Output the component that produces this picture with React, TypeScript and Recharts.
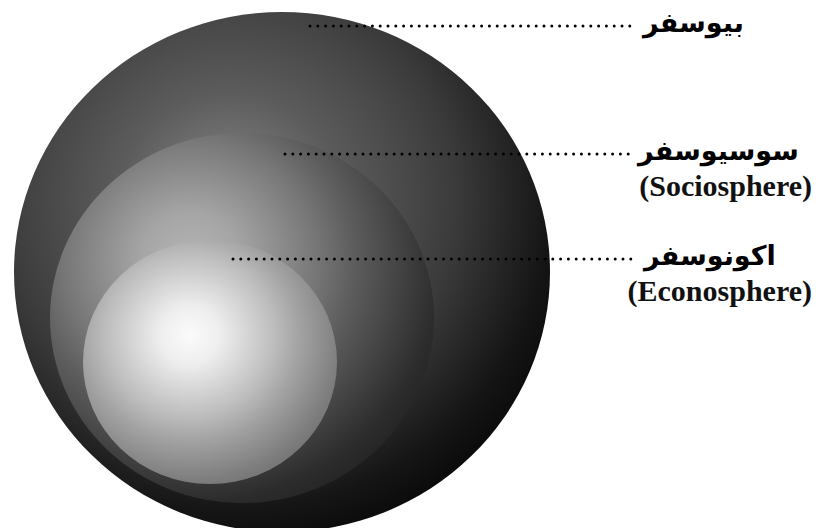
import { ScatterChart, Scatter, XAxis, YAxis } from 'recharts';

// spheres, outermost first (units = pixels of the 816x528 plot)
const spheres = ['Biosphere', 'Sociosphere', 'Econosphere'];
const centerX = [282, 242, 210];
const centerY = [272, 318, 362];
const radiusX = [268, 192, 127];
const radiusY = [260, 185, 122];

// labels and their dotted leaders
const faLabels = ['بیوسفر', 'سوسیوسفر', 'اکونوسفر'];
const enLabels = ['', '(Sociosphere)', '(Econosphere)'];
const leaderY = [26, 154, 259];
const leaderStart = [310, 285, 233];
const leaderEnd = [635, 630, 636];

const gradients = [
  {
    id: 'bioGrad',
    cx: 0.4,
    cy: 0.36,
    r: 0.75,
    stops: [
      [0, '#8a8a8a'],
      [0.27, '#5c5c5c'],
      [0.47, '#464646'],
      [0.57, '#3a3a3a'],
      [0.8, '#151515'],
      [1, '#000000'],
    ],
  },
  {
    id: 'socioGrad',
    cx: 0.365,
    cy: 0.343,
    r: 0.86,
    stops: [
      [0, '#b4b4b4'],
      [0.15, '#a5a5a5'],
      [0.38, '#777777'],
      [0.5, '#5c5c5c'],
      [0.76, '#2c2c2c'],
      [1, '#151515'],
    ],
  },
  {
    id: 'econoGrad',
    cx: 0.42,
    cy: 0.39,
    r: 0.79,
    stops: [
      [0, '#fbfbfb'],
      [0.15, '#eeeeee'],
      [0.42, '#bdbdbd'],
      [0.55, '#a2a2a2'],
      [0.75, '#7e7e7e'],
      [1, '#5a5a5a'],
    ],
  },
];

const sphereData = spheres.map((name, i) => ({
  name,
  x: centerX[i],
  y: centerY[i],
  rx: radiusX[i],
  ry: radiusY[i],
}));

const labelData = faLabels.map((fa, i) => ({
  x: leaderEnd[i],
  y: leaderY[i],
  fa,
  en: enLabels[i],
}));

const Ellipse = (props: any) => {
  const { cx, cy, fill, payload } = props;
  return <ellipse cx={cx} cy={cy} rx={payload.rx} ry={payload.ry} fill={fill} />;
};

const NoDot = () => <g />;

const Label = (props: any) => {
  const { cx, cy, payload } = props;
  return (
    <g>
      <text
        x={cx + 8}
        y={cy + 6}
        textAnchor="start"
        fontFamily="'DejaVu Sans', sans-serif"
        fontWeight="bold"
        fontSize={27}
        fill="#000"
      >
        {payload.fa}
      </text>
      {payload.en && (
        <text
          x={812}
          y={cy + 42}
          textAnchor="end"
          fontFamily="'Liberation Serif', serif"
          fontWeight="bold"
          fontSize={30}
          fill="#111"
        >
          {payload.en}
        </text>
      )}
    </g>
  );
};

export default function App() {
  return (
    <div style={{ position: 'absolute', left: 0, top: 0, background: '#fff' }}>
      <ScatterChart width={816} height={528} margin={{ top: 0, right: 0, bottom: 0, left: 0 }}>
        <defs>
          {gradients.map((g) => (
            <radialGradient key={g.id} id={g.id} cx={g.cx} cy={g.cy} r={g.r} fx={g.cx} fy={g.cy}>
              {g.stops.map(([o, c]) => (
                <stop key={String(o)} offset={o as number} stopColor={c as string} />
              ))}
            </radialGradient>
          ))}
        </defs>
        <XAxis type="number" dataKey="x" domain={[0, 816]} hide allowDataOverflow />
        <YAxis type="number" dataKey="y" domain={[0, 528]} reversed hide allowDataOverflow />
        {sphereData.map((d, i) => (
          <Scatter
            key={d.name}
            name={d.name}
            data={[d]}
            fill={`url(#${gradients[i].id})`}
            shape={Ellipse}
            isAnimationActive={false}
          />
        ))}
        {leaderY.map((y, i) => (
          <Scatter
            key={`leader-${i}`}
            data={[
              { x: leaderStart[i], y },
              { x: leaderEnd[i], y },
            ]}
            line={{
              stroke: '#000',
              strokeWidth: 3,
              strokeDasharray: '0 7.8',
              strokeLinecap: 'round',
            }}
            shape={NoDot}
            isAnimationActive={false}
          />
        ))}
        <Scatter data={labelData} shape={Label} isAnimationActive={false} />
      </ScatterChart>
    </div>
  );
}
